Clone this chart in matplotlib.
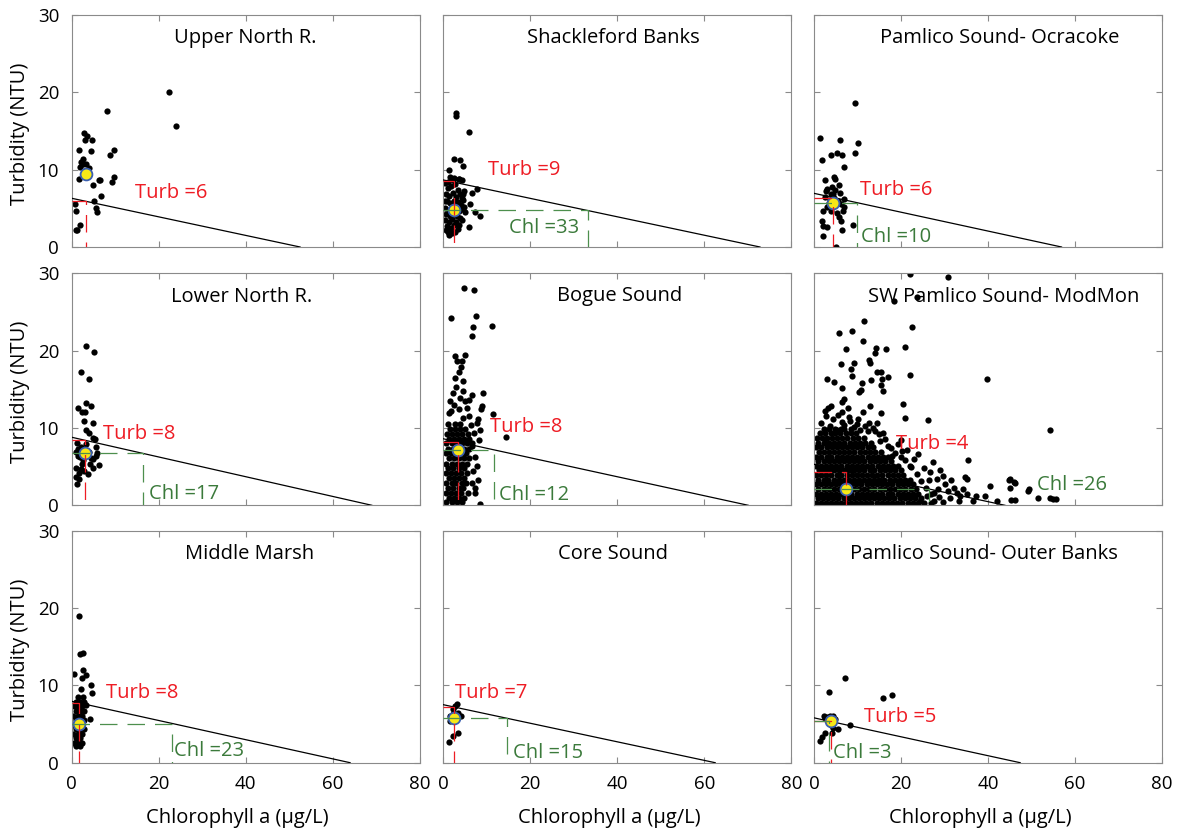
import numpy as np
import matplotlib.pyplot as plt

plt.rcParams['font.family'] = ['Open Sans', 'DejaVu Sans']

# ---- panel names / fitted lines / means ----
names = ["Upper North R.", "Shackleford Banks", "Pamlico Sound- Ocracoke",
         "Lower North R.", "Bogue Sound", "SW Pamlico Sound- ModMon",
         "Middle Marsh", "Core Sound", "Pamlico Sound- Outer Banks"]
line_y0 = [6.3, 8.67, 6.94, 8.8, 8.6, 5.3, 7.94, 7.5, 5.8]        # turbidity at chl = 0
line_x0 = [52.5, 72.8, 56.9, 69.0, 70.1, 43.9, 64.0, 62.5, 47.4]   # chl at turbidity = 0
mean_chl = [3.3, 2.5, 4.4, 3.1, 3.45, 7.4, 1.7, 2.46, 3.83]
mean_turb = [9.4, 4.8, 5.7, 6.7, 7.1, 2.12, 4.98, 5.73, 5.37]
turb_level = [5.9, 8.5, 6.3, 8.45, 8.2, 4.35, 7.75, 7.15, 5.35]
chl_level = [None, 33.3, 9.8, 16.5, 11.7, 26.4, 23.0, 14.7, 3.5]
turb_text = ["Turb =6", "Turb =9", "Turb =6", "Turb =8", "Turb =8",
             "Turb =4", "Turb =8", "Turb =7", "Turb =5"]
chl_text = [None, "Chl =33", "Chl =10", "Chl =17", "Chl =12",
            "Chl =26", "Chl =23", "Chl =15", "Chl =3"]
turb_pos = [(14.5, 6.95), (10.3, 9.9), (10.6, 7.4), (7.3, 9.2), (10.7, 10.1),
            (18.9, 7.9), (7.8, 9.0), (2.7, 9.0), (11.5, 5.95)]
chl_pos = [None, (15.0, 2.4), (10.7, 1.25), (17.8, 1.5), (12.9, 1.3),
           (51.2, 2.6), (23.5, 1.45), (16.0, 1.25), (4.4, 1.25)]
title_x = [40.0, 39.2, 42.8, 39.0, 40.6, 43.6, 40.8, 39.0, 39.0]

# ---- scatter data: chlorophyll (ug/L), turbidity (NTU) ----
upper_north_chl = [22.4, 23.9, 8.2, 2.8, 3.6, 3.1, 4.7, 1.7, 4.4, 9.7, 8.8, 2.5, 2.2, 2.7,
                   3.4, 2.0, 1.7, 4.8, 6.3, 6.5, 9.7, 9.3, 6.7, 5.1, 5.7, 5.9, 0.8, 1.0,
                   1.8, 1.3, 1.1, 3.9, 3.0]
upper_north_turb = [20.1, 15.7, 17.6, 14.8, 14.3, 13.8, 13.9, 12.6, 12.4, 12.5, 11.9, 11.4,
                    11.0, 10.7, 10.7, 10.4, 8.8, 8.0, 8.7, 8.6, 9.0, 8.4, 6.6, 6.0, 5.0,
                    4.5, 5.5, 4.7, 2.9, 2.2, 2.2, 10.2, 9.8]

shackleford_chl = [2.9, 2.9, 5.8, 2.5, 3.9, 4.5, 1.3, 1.5, 2.5, 3.7, 4.4, 7.8, 6.7, 4.5,
                   6.1, 4.6, 7.4, 8.4, 6.0, 1.2, 4.2, 5.1, 4.3,
                   0.5, 1.0, 1.8, 2.6, 3.3, 0.6, 1.4, 2.2, 3.0, 3.8, 0.8, 1.6, 2.4, 3.3,
                   4.0, 0.5, 1.2, 2.0, 3.0, 3.7, 0.7, 1.5, 2.3, 3.1, 3.9, 0.5, 1.3, 2.1,
                   2.9, 3.6, 0.8, 1.7, 2.5, 3.3, 1.0, 2.0, 2.8, 0.6, 4.3, 4.8, 1.1, 2.2,
                   3.6, 4.7, 0.4]
shackleford_turb = [17.3, 17.0, 14.9, 11.4, 11.2, 10.5, 9.9, 9.1, 8.9, 8.8, 8.7, 7.5, 6.95,
                    6.8, 5.6, 6.1, 4.5, 4.0, 2.6, 1.5, 4.9, 4.5, 3.5,
                    8.3, 7.6, 7.9, 8.1, 7.4, 6.9, 6.6, 7.0, 6.5, 6.9, 6.0, 5.7, 6.0, 5.8,
                    5.4, 5.1, 4.8, 5.3, 4.9, 4.6, 4.3, 4.0, 4.4, 4.0, 3.8, 3.5, 3.2, 3.6,
                    3.2, 2.9, 2.7, 2.4, 2.8, 2.3, 1.9, 1.8, 2.0, 2.2, 6.3, 5.2, 8.4, 8.6,
                    8.8, 7.2, 6.0]

ocracoke_chl = [9.4, 1.3, 6.0, 10.2, 1.9, 3.8, 5.3, 6.4, 9.5, 6.8, 2.6, 4.7, 4.9, 5.8,
                2.7, 3.8, 4.9, 4.4, 6.9, 2.1, 6.6, 1.8, 2.1, 3.1, 5.8, 6.1, 8.9, 6.5,
                2.0, 5.1, 4.0, 5.2, 3.0, 7.0, 3.7, 4.6, 3.4, 5.5, 2.5, 4.2, 5.9, 3.0, 6.3]
ocracoke_turb = [18.6, 14.1, 13.9, 13.5, 11.3, 11.9, 12.2, 11.9, 12.1, 10.3, 8.6, 9.1, 8.8,
                 8.0, 7.2, 6.9, 7.4, 6.8, 6.2, 4.7, 4.7, 3.3, 2.7, 2.6, 3.9, 3.3, 2.9, 2.2,
                 1.4, 0.05, 4.6, 4.35, 5.2, 5.2, 6.1, 6.3, 5.7, 5.9, 6.5, 7.8, 7.0, 7.5, 5.5]

lower_north_chl = [3.4, 5.2, 2.1, 4.0, 1.5, 3.2, 2.4, 4.5, 3.1, 2.9, 4.8, 3.3, 4.0, 5.0,
                   5.4, 1.5, 5.7, 6.2, 4.9, 3.7, 1.0, 2.1, 1.0, 1.7, 1.2, 2.3, 5.0, 3.4,
                   5.7, 2.0, 3.9, 4.5, 2.6, 1.4, 4.2, 1.6, 2.8, 1.0, 2.2, 5.8, 1.3]
lower_north_turb = [20.6, 19.8, 17.2, 16.3, 12.6, 13.2, 12.1, 12.8, 12.0, 10.9, 10.7, 9.7,
                    9.3, 8.7, 8.6, 7.3, 6.4, 5.2, 4.8, 4.0, 4.8, 4.7, 3.6, 3.4, 2.7, 5.4,
                    6.0, 7.9, 7.5, 6.3, 6.9, 6.1, 5.9, 6.4, 5.4, 4.2, 4.4, 6.9, 7.6, 6.8,
                    8.1]

bogue_sparse_chl = [4.7, 7.1, 1.85, 7.6, 11.3, 6.75, 6.5, 2.7, 5.1, 3.1, 4.4, 4.0, 3.7, 2.7,
                    4.6, 2.3, 3.8, 6.7, 9.2, 1.5, 5.0, 8.8, 8.6, 1.2, 11.5, 5.8, 7.9, 14.3,
                    8.5, 8.1, 8.4, 7.8, 8.0, 7.4, 6.3, 7.0, 6.6, 7.2, 6.8, 6.5, 7.4, 2.4,
                    3.6, 4.6, 5.5, 3.0, 4.5, 6.0, 1.8, 7.8]
bogue_sparse_turb = [28.1, 27.8, 24.2, 24.5, 23.2, 23.0, 21.9, 19.3, 19.4, 18.6, 18.6, 17.9,
                     17.3, 16.5, 16.1, 14.5, 13.9, 14.3, 14.5, 13.5, 13.5, 12.9, 12.4, 11.9,
                     11.8, 11.6, 11.2, 8.8, 9.8, 8.4, 0.2, 5.1, 3.3, 2.3, 10.4, 9.3, 7.7,
                     6.3, 4.4, 2.9, 1.6, 13.0, 12.4, 11.3, 12.6, 15.3, 14.8, 13.6, 12.2,
                     10.7]
# dense column of Bogue Sound points, one row per turbidity level
bogue_rows = [(0.4, [0.7, 1.9, 3.1, 4.2]),
              (1.0, [1.2, 2.4, 3.6, 4.7]),
              (1.6, [0.6, 1.8, 3.0, 4.1, 5.6]),
              (2.3, [1.1, 2.3, 3.5, 4.6]),
              (2.9, [0.7, 1.9, 3.0, 4.2, 5.3]),
              (3.5, [1.2, 2.4, 3.6, 4.8]),
              (4.2, [0.6, 1.8, 3.0, 4.1, 5.4]),
              (4.8, [1.1, 2.3, 3.5, 4.7]),
              (5.4, [0.7, 1.9, 3.1, 4.2, 5.5]),
              (6.1, [1.2, 2.4, 3.6, 4.8, 6.0]),
              (6.7, [0.6, 1.8, 3.0, 4.2, 5.3]),
              (7.3, [1.1, 2.3, 3.5, 4.7, 5.9]),
              (8.0, [0.7, 1.9, 3.1, 4.3, 5.4, 6.6]),
              (8.6, [1.2, 2.4, 3.6, 4.8, 6.0]),
              (9.2, [0.8, 2.0, 3.2, 4.4, 5.6]),
              (9.9, [1.5, 2.7, 3.9, 5.1]),
              (10.5, [1.1, 2.6, 3.8])]

sw_sparse_chl = [22.1, 30.7, 23.6, 18.4, 11.5, 22.6, 5.75, 8.7, 11.3, 7.4, 14.2, 14.0, 16.5,
                 20.9, 6.1, 9.1, 12.7, 12.9, 8.6, 8.7, 14.4, 15.4, 16.9, 15.6, 22.0, 2.9,
                 4.5, 11.0, 13.2, 15.4, 6.4, 10.3, 10.9, 15.8, 7.0, 39.7, 20.5, 2.5, 3.3,
                 6.4, 7.9, 11.3, 15.3, 21.0, 26.3, 4.4, 6.4, 8.3, 9.8, 12.7, 14.4, 5.2,
                 10.6, 14.0, 15.9, 54.3, 2.5, 15.2, 17.1, 20.1, 21.3, 17.9, 20.1, 23.0,
                 35.3, 22.1, 25.4, 28.2, 29.6, 34.8, 35.1, 30.0, 32.2, 40.5, 45.1, 45.9,
                 45.1, 49.4, 32.8, 33.6, 35.1, 37.2, 39.3, 36.6, 42.0, 45.2, 46.3, 51.6,
                 54.3, 27.6, 29.6, 25.9, 24.4, 55.0, 55.6, 49.3, 44.9, 46.2,
                 1.5, 2.8, 3.7, 5.5, 7.0, 8.0, 9.2, 10.2, 11.8, 12.3, 13.5, 14.9, 16.4,
                 17.6, 18.6, 19.4, 21.0, 22.4, 23.6, 24.6, 25.8, 26.8, 27.5, 28.4, 26.4,
                 23.8, 20.2, 12.9, 4.0, 6.5, 26.6, 27.3, 29.0, 30.7, 31.5, 33.4, 34.2,
                 31.2, 28.8, 27.0]
sw_sparse_turb = [29.9, 29.5, 26.9, 26.4, 23.8, 23.1, 22.3, 22.6, 21.2, 20.2, 20.4, 19.7,
                  20.2, 20.5, 18.3, 18.4, 18.8, 18.4, 17.6, 16.7, 17.3, 17.3, 16.6, 16.3,
                  16.8, 16.3, 16.0, 15.8, 16.2, 15.6, 15.2, 14.7, 14.9, 14.8, 13.8, 16.3,
                  13.1, 12.2, 12.6, 12.0, 12.6, 12.0, 11.9, 11.3, 11.0, 11.1, 10.8, 10.9,
                  10.5, 10.7, 10.7, 9.8, 9.8, 9.6, 9.4, 9.8, 8.6, 8.3, 7.7, 8.5, 7.2, 6.4,
                  6.2, 6.0, 5.9, 5.1, 4.8, 3.4, 3.8, 3.7, 3.4, 2.8, 2.3, 2.5, 3.4, 3.0,
                  2.3, 2.1, 1.6, 1.2, 1.4, 1.2, 1.2, 0.6, 0.5, 0.7, 0.7, 1.0, 1.0, 1.6,
                  0.4, 1.2, 0.6, 0.8, 0.8, 1.9, 3.3, 2.9,
                  10.6, 11.5, 10.2, 11.7, 10.4, 11.4, 10.1, 11.2, 10.3, 9.6, 10.0, 9.2,
                  8.6, 7.4, 6.8, 7.9, 5.9, 5.0, 4.1, 3.1, 2.2, 1.5, 0.6, 2.1, 3.3, 6.6,
                  7.0, 12.8, 12.9, 13.3, 4.3, 5.6, 4.6, 1.9, 3.3, 0.5, 2.1, 0.9, 1.1, 0.3]
# solid cloud of SW Pamlico points near the origin, one row per turbidity level
sw_rows = [(0.3, [0.4, 1.5, 2.7, 3.8, 5.1, 6.2, 7.4, 8.5, 9.7, 10.9, 12.0, 13.2, 14.5, 15.6,
                  16.8, 17.9, 19.1, 20.3, 21.6, 22.7, 23.9, 25.2]),
           (0.9, [1.0, 2.1, 3.3, 4.4, 5.6, 6.8, 8.0, 9.1, 10.3, 11.5, 12.6, 13.8, 15.0, 16.2,
                  17.3, 18.5, 19.7, 20.9, 22.1, 23.3, 24.6]),
           (1.5, [0.5, 1.6, 2.8, 3.9, 5.0, 6.3, 7.5, 8.6, 9.8, 11.0, 12.1, 13.3, 14.4, 15.7,
                  16.9, 18.0, 19.2, 20.4, 21.5, 22.8, 24.0]),
           (2.1, [1.0, 2.2, 3.4, 4.5, 5.7, 6.9, 8.1, 9.2, 10.4, 11.6, 12.7, 13.9, 15.1, 16.3,
                  17.4, 18.6, 19.8, 21.0, 22.3, 23.4]),
           (2.7, [0.4, 1.6, 2.8, 3.9, 5.1, 6.3, 7.4, 8.6, 9.7, 10.9, 12.1, 13.3, 14.5, 15.6,
                  16.8, 18.0, 19.2, 20.4, 21.6, 22.7]),
           (3.3, [1.0, 2.2, 3.3, 4.5, 5.7, 6.8, 8.0, 9.2, 10.3, 11.5, 12.7, 13.9, 15.0, 16.2,
                  17.4, 18.6, 19.8, 21.0, 22.0]),
           (3.9, [0.5, 1.7, 2.8, 4.0, 5.2, 6.3, 7.5, 8.7, 9.8, 11.0, 12.2, 13.4, 14.5, 15.7,
                  16.9, 18.1, 19.3, 20.5]),
           (4.5, [1.1, 2.2, 3.4, 4.6, 5.7, 6.9, 8.1, 9.3, 10.4, 11.6, 12.8, 13.9, 15.1, 16.3,
                  17.5, 18.7, 19.9]),
           (5.1, [0.4, 1.6, 2.8, 4.0, 5.1, 6.3, 7.5, 8.7, 9.9, 11.0, 12.2, 13.4, 14.6, 15.8,
                  16.9, 18.2, 19.3]),
           (5.7, [1.0, 2.2, 3.4, 4.5, 5.7, 6.9, 8.1, 9.2, 10.4, 11.6, 12.8, 14.0, 15.1, 16.4,
                  17.6]),
           (6.3, [0.5, 1.7, 2.9, 4.0, 5.2, 6.4, 7.6, 8.7, 9.9, 11.1, 12.3, 13.5, 14.6, 15.9,
                  17.1]),
           (6.9, [1.1, 2.3, 3.4, 4.6, 5.8, 7.0, 8.1, 9.3, 10.5, 11.7, 12.9, 14.1, 15.4]),
           (7.5, [0.5, 1.7, 2.9, 4.1, 5.2, 6.4, 7.6, 8.8, 9.9, 11.1, 12.4, 13.6]),
           (8.1, [1.0, 2.2, 3.4, 4.6, 5.8, 7.0, 8.2, 9.4, 10.6, 11.8, 13.0]),
           (8.7, [0.6, 1.8, 3.0, 4.2, 5.3, 6.5, 7.7, 8.9, 10.1, 11.4]),
           (9.3, [1.3, 2.6, 3.8, 4.9, 6.0, 7.3, 8.4, 9.6]),
           (9.9, [2.3, 3.5, 4.8, 6.1, 7.0, 8.6])]

middle_marsh_sparse_chl = [1.7, 2.5, 1.9, 0.6, 2.7, 2.3, 3.4, 2.1, 4.4, 4.7, 4.2, 3.4]
middle_marsh_sparse_turb = [19.0, 14.2, 14.0, 11.5, 12.0, 11.0, 11.3, 9.5, 10.1, 9.0, 5.7, 7.5]
middle_marsh_rows = [(2.1, [0.9, 1.9]),
                     (2.6, [0.5, 1.5, 2.4]),
                     (3.2, [0.9, 1.9]),
                     (3.7, [0.4, 1.4, 2.4]),
                     (4.3, [0.9, 1.9, 2.8]),
                     (4.9, [0.4, 1.4, 2.4]),
                     (5.5, [0.9, 1.9, 2.9]),
                     (6.1, [0.4, 1.4, 2.4]),
                     (6.7, [0.9, 1.9, 2.9]),
                     (7.3, [0.5, 1.4, 2.4]),
                     (7.9, [1.0, 2.0, 2.9]),
                     (8.5, [1.5, 2.5])]

core_chl = [3.1, 2.6, 2.2, 1.5, 4.1, 2.2, 3.3, 2.3, 1.3, 2.3, 1.5, 2.9, 3.4]
core_turb = [7.65, 7.3, 6.9, 6.1, 6.1, 5.6, 3.9, 3.5, 2.7, 6.25, 5.4, 5.9, 6.4]

outer_banks_chl = [7.1, 3.5, 15.8, 18.0, 8.3, 2.5, 3.7, 4.8, 5.6, 4.1, 2.5, 1.9, 1.4, 2.9,
                   4.3, 2.2, 3.1, 4.4, 4.0]
outer_banks_turb = [10.9, 9.2, 8.4, 8.7, 4.9, 5.8, 6.1, 5.6, 4.4, 3.8, 3.8, 3.3, 2.8, 5.6,
                    4.5, 6.1, 5.9, 6.0, 4.9]


def rows_to_xy(rows):
    xs, ys = [], []
    for y, row in rows:
        xs += row
        ys += [y] * len(row)
    return xs, ys


bogue_dense_chl, bogue_dense_turb = rows_to_xy(bogue_rows)
sw_dense_chl, sw_dense_turb = rows_to_xy(sw_rows)
mm_dense_chl, mm_dense_turb = rows_to_xy(middle_marsh_rows)

scatter_chl = [upper_north_chl, shackleford_chl, ocracoke_chl, lower_north_chl,
               bogue_sparse_chl + bogue_dense_chl, sw_sparse_chl + sw_dense_chl,
               middle_marsh_sparse_chl + mm_dense_chl, core_chl, outer_banks_chl]
scatter_turb = [upper_north_turb, shackleford_turb, ocracoke_turb, lower_north_turb,
                bogue_sparse_turb + bogue_dense_turb, sw_sparse_turb + sw_dense_turb,
                middle_marsh_sparse_turb + mm_dense_turb, core_turb, outer_banks_turb]

# ---- figure ----
RED = '#ee1c24'
GREEN_TXT = '#3b7a3b'
GREEN_LN = '#4d8f4d'
GRAY = '#8a8a8a'
FS = 14.5          # titles, labels, annotations
FS_TICK = 13.5
DASH = (0, (14, 8))

W, H = 1179, 832
fig = plt.figure(figsize=(W / 100, H / 100), dpi=100)
col_left = [71.7, 443.3, 814.0]
row_top = [15.0, 273.3, 530.7]
ax_w, ax_h = 348.0, 232.0

for i in range(9):
    r, c = divmod(i, 3)
    ax = fig.add_axes([col_left[c] / W, 1 - (row_top[r] + ax_h) / H, ax_w / W, ax_h / H])

    ax.plot(scatter_chl[i], scatter_turb[i], 'o', color='black', ms=4.5, mew=0,
            zorder=2, clip_on=True)
    ax.plot([0, line_x0[i]], [line_y0[i], 0], color='black', lw=0.9, zorder=3)

    ax.plot(mean_chl[i], mean_turb[i], 'o', ms=8.5, mfc='#f7e817', mec='#3a5fb0',
            mew=1.3, zorder=4)

    # turbidity threshold at mean chlorophyll
    ax.plot([0, mean_chl[i], mean_chl[i]], [turb_level[i], turb_level[i], 0],
            color=RED, lw=0.9, ls=DASH, zorder=5)
    ax.text(turb_pos[i][0], turb_pos[i][1], turb_text[i], color=RED, fontsize=FS,
            va='center', ha='left')

    # chlorophyll threshold at mean turbidity
    if chl_level[i] is not None:
        ax.plot([0, chl_level[i], chl_level[i]], [mean_turb[i], mean_turb[i], 0],
                color=GREEN_LN, lw=0.9, ls=DASH, zorder=5)
        ax.text(chl_pos[i][0], chl_pos[i][1], chl_text[i], color=GREEN_TXT, fontsize=FS,
                va='center', ha='left')

    ax.text(title_x[i], 27.0, names[i], fontsize=FS, ha='center', va='center')

    ax.set_xlim(0, 80)
    ax.set_ylim(0, 30)
    ax.set_xticks([0, 20, 40, 60, 80])
    ax.set_yticks([0, 10, 20, 30])
    ax.tick_params(direction='in', top=True, right=True, length=4, width=0.8,
                   color=GRAY, labelsize=FS_TICK, pad=9)
    for s in ax.spines.values():
        s.set_color(GRAY)
        s.set_linewidth(0.8)
    if c != 0:
        ax.set_yticklabels([])
    if r != 2:
        ax.set_xticklabels([])

    if c == 0:
        fig.text(20 / W, 1 - (row_top[r] + ax_h / 2 + 3) / H, "Turbidity (NTU)",
                 rotation=90, fontsize=FS, ha='center', va='center')
    if r == 2:
        fig.text((col_left[c] + ax_w / 2 - 8) / W, 1 - 818 / H, "Chlorophyll a (\u03bcg/L)",
                 fontsize=FS, ha='center', va='center')

fig.savefig('out.png', dpi=100)
